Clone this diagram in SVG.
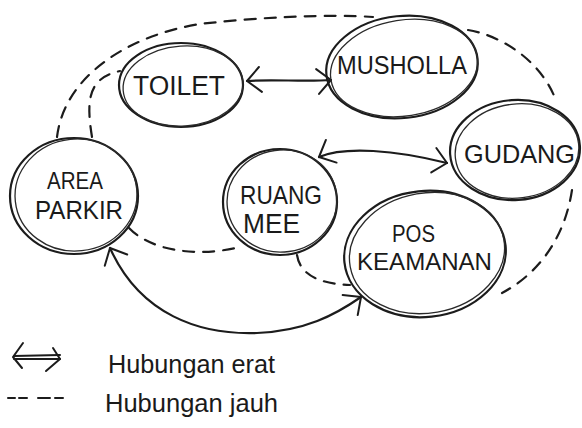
<svg xmlns="http://www.w3.org/2000/svg" width="582" height="428" viewBox="0 0 582 428">
  <style>
    .ring { fill: none; stroke: #1c1c1c; stroke-width: 2.2; }
    .ring2 { fill: none; stroke: #2a2a2a; stroke-width: 1.3; }
    .lbl { font-family: "Liberation Sans", Arial, sans-serif; fill: #1a1a1a; text-anchor: start; }
    .solid { fill: none; stroke: #1c1c1c; stroke-width: 2.2; stroke-linecap: round; }
    .dash { fill: none; stroke: #1c1c1c; stroke-width: 2.2; stroke-dasharray: 11 9; stroke-linecap: round; }
    .tick { fill: none; stroke: #1c1c1c; stroke-width: 2; stroke-linecap: round; stroke-linejoin: round; }
  </style>
  <defs>
    <marker id="head" viewBox="-16 -15 20 30" markerWidth="20" markerHeight="30" refX="0" refY="0" orient="auto-start-reverse" markerUnits="userSpaceOnUse">
      <path d="M-14,-12 L0,0 L-13,13" fill="none" stroke="#1c1c1c" stroke-width="2" stroke-linecap="round" stroke-linejoin="round"/>
    </marker>
  </defs>

  <rect width="582" height="428" fill="#ffffff"/>

  <!-- relationship lines -->
  <g id="connectors">
    <!-- close relations (solid, two-headed) -->
    <path class="solid" d="M247,81 C272,79 305,82 331,80" marker-start="url(#head)" marker-end="url(#head)"/>
    <path class="solid" d="M319,157 C345,146 395,150 447,163" marker-start="url(#head)" marker-end="url(#head)"/>
    <path class="solid" d="M110,248 C140,315 200,335 257,333 C305,331 335,315 361,297" marker-start="url(#head)" marker-end="url(#head)"/>
    <!-- distant relations (dashed) -->
    <path class="dash" d="M57,137 C64,78 125,36 200,24 C260,17 330,14 373,17"/>
    <path class="dash" d="M92,137 C86,100 88,78 120,71"/>
    <path class="dash" d="M468,30 C500,35 540,60 555,98"/>
    <path class="dash" d="M572,190 C566,230 545,270 502,293"/>
    <path class="dash" d="M129,228 C150,250 195,258 240,247"/>
    <path class="dash" d="M297,255 C300,275 320,284 350,285"/>
  </g>

  <g id="toilet">
    <ellipse class="ring" cx="181" cy="85" rx="62" ry="42"/>
    <ellipse class="ring2" cx="183" cy="86" rx="60" ry="40" transform="rotate(-4 183 86)"/>
    <text class="lbl" x="133" y="95" font-size="27" textLength="92" lengthAdjust="spacingAndGlyphs">TOILET</text>
  </g>

  <g id="musholla">
    <ellipse class="ring" cx="402" cy="67" rx="76" ry="51" transform="rotate(-6 402 67)"/>
    <ellipse class="ring2" cx="404" cy="68" rx="74" ry="48" transform="rotate(-9 404 68)"/>
    <text class="lbl" x="337" y="74" font-size="25" textLength="130" lengthAdjust="spacingAndGlyphs">MUSHOLLA</text>
  </g>

  <g id="gudang">
    <ellipse class="ring" cx="515" cy="150" rx="65" ry="50" transform="rotate(-4 515 150)"/>
    <ellipse class="ring2" cx="517" cy="151" rx="62" ry="47" transform="rotate(-7 517 151)"/>
    <text class="lbl" x="464" y="163" font-size="25" textLength="111" lengthAdjust="spacingAndGlyphs">GUDANG</text>
  </g>

  <g id="area-parkir">
    <ellipse class="ring" cx="74" cy="196" rx="64" ry="58"/>
    <ellipse class="ring2" cx="76" cy="195" rx="61" ry="56" transform="rotate(-6 76 195)"/>
    <text class="lbl" x="47" y="189" font-size="23" textLength="56" lengthAdjust="spacingAndGlyphs">AREA</text>
    <text class="lbl" x="35" y="219" font-size="25" textLength="88" lengthAdjust="spacingAndGlyphs">PARKIR</text>
  </g>

  <g id="ruang-mee">
    <ellipse class="ring" cx="280" cy="202" rx="57" ry="53"/>
    <ellipse class="ring2" cx="282" cy="201" rx="55" ry="51" transform="rotate(-8 282 201)"/>
    <text class="lbl" x="240" y="204" font-size="26" textLength="82" lengthAdjust="spacingAndGlyphs">RUANG</text>
    <text class="lbl" x="243" y="233" font-size="27" textLength="57" lengthAdjust="spacingAndGlyphs">MEE</text>
  </g>

  <g id="pos-keamanan">
    <ellipse class="ring" cx="425" cy="254" rx="81" ry="63" transform="rotate(-6 425 254)"/>
    <ellipse class="ring2" cx="427" cy="253" rx="78" ry="60" transform="rotate(-10 427 253)"/>
    <text class="lbl" x="392" y="242" font-size="24" textLength="43" lengthAdjust="spacingAndGlyphs">POS</text>
    <text class="lbl" x="357" y="270" font-size="24" textLength="135" lengthAdjust="spacingAndGlyphs">KEAMANAN</text>
  </g>

  <!-- key -->
  <g id="legend">
    <path class="tick" d="M14,356 L60,355"/>
    <path class="tick" d="M14,359 L60,359" stroke-width="1.4"/>
    <path class="tick" d="M23,343 L13,357 L22,368"/>
    <path class="tick" d="M53,348 L60,359 L46,371"/>
    <path class="tick" d="M8,398 L15,398 M19,398 L27,398 M38,398 L50,398 M55,398 L63,398"/>
    <text class="lbl" x="108" y="373" font-size="25" textLength="167" lengthAdjust="spacingAndGlyphs">Hubungan erat</text>
    <text class="lbl" x="105" y="412" font-size="25" textLength="173" lengthAdjust="spacingAndGlyphs">Hubungan jauh</text>
  </g>
</svg>
